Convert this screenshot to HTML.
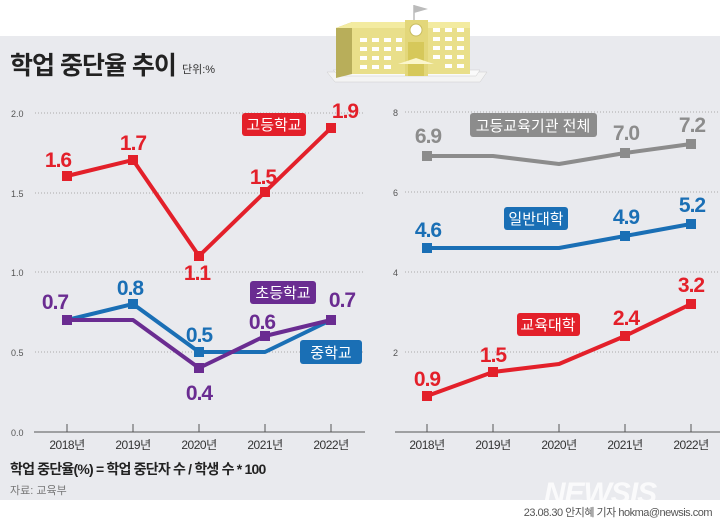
<!DOCTYPE html>
<html><head><meta charset="utf-8"><style>
body{margin:0;width:720px;height:523px;background:#fff;overflow:hidden}
svg{display:block}
text{font-family:"Liberation Sans","Noto Sans CJK KR",sans-serif}
.v{font-size:21px;font-weight:bold;text-anchor:middle;letter-spacing:-1px}
.t{font-size:9px;fill:#555}
.y{font-size:12px;fill:#333;text-anchor:middle;letter-spacing:-0.5px}
.lb{font-size:15px;fill:#fff;text-anchor:middle}
</style></head><body>
<svg width="720" height="523" viewBox="0 0 720 523">
<rect x="0" y="36" width="720" height="464" fill="#e9eaee"/>
<!-- building -->
<g>
<polygon points="335,82 480,82 487,72 327,72" fill="#f4f4f4" stroke="#ccc" stroke-width="0.5"/>
<polygon points="340,76 476,76 480,70 333,70" fill="#fafafa" stroke="#ccc" stroke-width="0.5"/>
<polygon points="336,28 352,22 352,74 336,78" fill="#b8ae5a"/>
<polygon points="336,28 352,22 410,22 405,28" fill="#f3eba0"/>
<rect x="352" y="28" width="53" height="46" fill="#e9df8a"/>
<polygon points="428,22 470,22 470,28 428,28" fill="#f3eba0"/>
<rect x="428" y="28" width="42" height="46" fill="#e9df8a"/>
<rect x="405" y="20" width="23" height="56" fill="#e3d77a"/>
<circle cx="416" cy="30" r="6" fill="#fff" stroke="#c9bd60"/>
<line x1="414" y1="20" x2="414" y2="5" stroke="#999"/>
<polygon points="414,5 428,9 414,13" fill="#bbb"/>
<rect x="408" y="42" width="16" height="34" fill="#d6c85a"/>
<polygon points="398,64 416,58 434,64" fill="#fbf6cc"/>
<g fill="#fff">
<rect x="360" y="38" width="7" height="4"/><rect x="372" y="38" width="7" height="4"/><rect x="384" y="38" width="7" height="4"/><rect x="396" y="38" width="6" height="4"/>
<rect x="360" y="47" width="7" height="4"/><rect x="372" y="47" width="7" height="4"/><rect x="384" y="47" width="7" height="4"/><rect x="396" y="47" width="6" height="4"/>
<rect x="360" y="56" width="7" height="4"/><rect x="372" y="56" width="7" height="4"/><rect x="384" y="56" width="7" height="4"/>
<rect x="360" y="65" width="7" height="4"/><rect x="372" y="65" width="7" height="4"/><rect x="384" y="65" width="7" height="4"/>
<rect x="433" y="28" width="7" height="4"/><rect x="445" y="28" width="7" height="4"/><rect x="457" y="28" width="7" height="4"/>
<rect x="433" y="37" width="7" height="4"/><rect x="445" y="37" width="7" height="4"/><rect x="457" y="37" width="7" height="4"/>
<rect x="433" y="46" width="7" height="4"/><rect x="445" y="46" width="7" height="4"/><rect x="457" y="46" width="7" height="4"/>
<rect x="433" y="55" width="7" height="4"/><rect x="445" y="55" width="7" height="4"/><rect x="457" y="55" width="7" height="4"/>
<rect x="445" y="64" width="7" height="4"/><rect x="457" y="64" width="7" height="4"/>
</g>
</g>
<text x="10" y="74" font-size="25" font-weight="bold" fill="#222" letter-spacing="-1">학업 중단율 추이</text>
<text x="182" y="73" font-size="11" fill="#333">단위:%</text>
<!-- grids -->
<g stroke="#aaa" stroke-dasharray="1,2" stroke-width="1">
<line x1="35" y1="113" x2="365" y2="113"/><line x1="35" y1="193" x2="365" y2="193"/>
<line x1="35" y1="272" x2="365" y2="272"/><line x1="35" y1="352" x2="365" y2="352"/>
<line x1="405" y1="112" x2="718" y2="112"/><line x1="405" y1="192" x2="718" y2="192"/>
<line x1="405" y1="272" x2="718" y2="272"/><line x1="405" y1="352" x2="718" y2="352"/>
</g>
<text class="t" x="11" y="117">2.0</text><text class="t" x="11" y="197">1.5</text>
<text class="t" x="11" y="276">1.0</text><text class="t" x="11" y="356">0.5</text>
<text class="t" x="11" y="436">0.0</text>
<text class="t" x="393" y="116">8</text><text class="t" x="393" y="196">6</text>
<text class="t" x="393" y="276">4</text><text class="t" x="393" y="356">2</text>
<g stroke="#555" stroke-width="1">
<line x1="34" y1="432" x2="365" y2="432"/>
<line x1="395" y1="432" x2="720" y2="432"/>
<line x1="67" y1="424" x2="67" y2="432"/><line x1="133" y1="424" x2="133" y2="432"/><line x1="199" y1="424" x2="199" y2="432"/><line x1="265" y1="424" x2="265" y2="432"/><line x1="331" y1="424" x2="331" y2="432"/>
<line x1="427" y1="424" x2="427" y2="432"/><line x1="493" y1="424" x2="493" y2="432"/><line x1="559" y1="424" x2="559" y2="432"/><line x1="625" y1="424" x2="625" y2="432"/><line x1="691" y1="424" x2="691" y2="432"/>
</g>
<g class="y">
<text class="y" x="67" y="449">2018년</text><text class="y" x="133" y="449">2019년</text><text class="y" x="199" y="449">2020년</text><text class="y" x="265" y="449">2021년</text><text class="y" x="331" y="449">2022년</text>
<text class="y" x="427" y="449">2018년</text><text class="y" x="493" y="449">2019년</text><text class="y" x="559" y="449">2020년</text><text class="y" x="625" y="449">2021년</text><text class="y" x="691" y="449">2022년</text>
</g>
<text x="10" y="474" font-size="14" font-weight="bold" fill="#222" letter-spacing="-0.8">학업 중단율(%) = 학업 중단자 수 / 학생 수 * 100</text>
<text x="10" y="494" font-size="11" fill="#777">자료: 교육부</text>
<text x="600" y="503" font-size="30" font-weight="bold" font-style="italic" fill="#fff" opacity="0.8" letter-spacing="-1" text-anchor="middle">NEWSIS</text>
<text x="712" y="516" font-size="11" fill="#555" text-anchor="end" letter-spacing="-0.5">23.08.30 안지혜 기자 hokma@newsis.com</text>

<!-- left series -->
<g fill="none" stroke-width="4" stroke-linejoin="round">
<polyline points="67,320 133,304 199,352 265,352 331,320" stroke="#1a6fb5"/>
<polyline points="67,320 133,320 199,368 265,336 331,320" stroke="#6a2c91"/>
<polyline points="67,176 133,160 199,256 265,192 331,128" stroke="#e3202a"/>
<polyline points="427,156 493,156 559,164 625,153 691,144" stroke="#8c8c8c"/>
<polyline points="427,248 493,248 559,248 625,236 691,224" stroke="#1a6fb5"/>
<polyline points="427,396 493,372 559,364 625,336 691,304" stroke="#e3202a"/>
</g>
<g fill="#1a6fb5"><rect x="128" y="299" width="10" height="10"/><rect x="194" y="347" width="10" height="10"/><rect x="326" y="315" width="10" height="10"/>
<rect x="422" y="243" width="10" height="10"/><rect x="620" y="231" width="10" height="10"/><rect x="686" y="219" width="10" height="10"/></g>
<g fill="#6a2c91"><rect x="62" y="315" width="10" height="10"/><rect x="194" y="363" width="10" height="10"/><rect x="260" y="331" width="10" height="10"/><rect x="326" y="315" width="10" height="10"/></g>
<g fill="#e3202a"><rect x="62" y="171" width="10" height="10"/><rect x="128" y="155" width="10" height="10"/><rect x="194" y="251" width="10" height="10"/><rect x="260" y="187" width="10" height="10"/><rect x="326" y="123" width="10" height="10"/>
<rect x="422" y="391" width="10" height="10"/><rect x="488" y="367" width="10" height="10"/><rect x="620" y="331" width="10" height="10"/><rect x="686" y="299" width="10" height="10"/></g>
<g fill="#8c8c8c"><rect x="422" y="151" width="10" height="10"/><rect x="620" y="148" width="10" height="10"/><rect x="686" y="139" width="10" height="10"/></g>

<g class="v">
<text class="v" x="58" y="167" fill="#e3202a">1.6</text><text class="v" x="133" y="150" fill="#e3202a">1.7</text><text class="v" x="197" y="280" fill="#e3202a">1.1</text><text class="v" x="263" y="184" fill="#e3202a">1.5</text><text class="v" x="345" y="118" fill="#e3202a">1.9</text>
<text class="v" x="55" y="309" fill="#6a2c91">0.7</text><text class="v" x="130" y="295" fill="#1a6fb5">0.8</text><text class="v" x="199" y="342" fill="#1a6fb5">0.5</text><text class="v" x="199" y="400" fill="#6a2c91">0.4</text><text class="v" x="262" y="329" fill="#6a2c91">0.6</text><text class="v" x="342" y="307" fill="#6a2c91">0.7</text>
<text class="v" x="428" y="143" fill="#8c8c8c">6.9</text><text class="v" x="626" y="140" fill="#8c8c8c">7.0</text><text class="v" x="692" y="132" fill="#8c8c8c">7.2</text>
<text class="v" x="428" y="237" fill="#1a6fb5">4.6</text><text class="v" x="626" y="224" fill="#1a6fb5">4.9</text><text class="v" x="692" y="212" fill="#1a6fb5">5.2</text>
<text class="v" x="427" y="386" fill="#e3202a">0.9</text><text class="v" x="493" y="362" fill="#e3202a">1.5</text><text class="v" x="626" y="325" fill="#e3202a">2.4</text><text class="v" x="691" y="292" fill="#e3202a">3.2</text>
</g>
<rect x="242" y="113" width="64" height="23" rx="3" fill="#e3202a"/><text class="lb" x="274" y="130">고등학교</text>
<rect x="250" y="281" width="66" height="23" rx="3" fill="#6a2c91"/><text class="lb" x="283" y="298">초등학교</text>
<rect x="300" y="340" width="62" height="24" rx="3" fill="#1a6fb5"/><text class="lb" x="331" y="358">중학교</text>
<rect x="470" y="113" width="127" height="24" rx="3" fill="#8c8c8c"/><text class="lb" x="533" y="131">고등교육기관 전체</text>
<rect x="504" y="207" width="64" height="23" rx="3" fill="#1a6fb5"/><text class="lb" x="536" y="224">일반대학</text>
<rect x="517" y="313" width="63" height="23" rx="3" fill="#e3202a"/><text class="lb" x="548" y="330">교육대학</text>
</svg>
</body></html>
